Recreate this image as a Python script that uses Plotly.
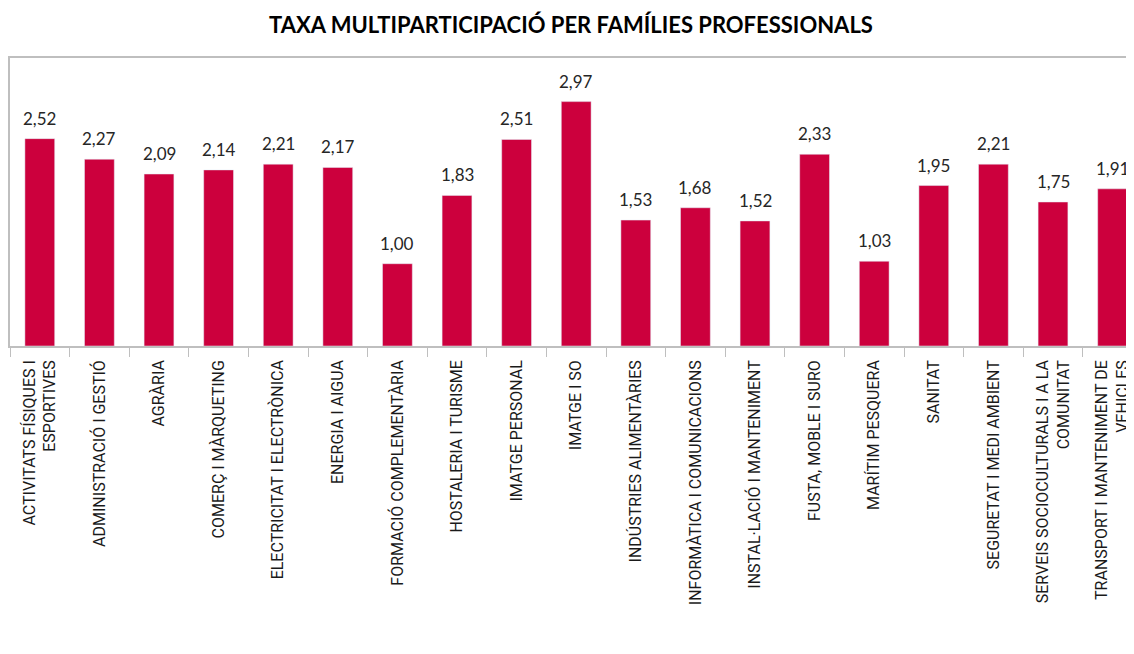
import plotly.graph_objects as go

categories = [
    "ACTIVITATS FÍSIQUES I<br>ESPORTIVES",
    "ADMINISTRACIÓ I GESTIÓ",
    "AGRÀRIA",
    "COMERÇ I MÀRQUETING",
    "ELECTRICITAT I ELECTRÒNICA",
    "ENERGIA I AIGUA",
    "FORMACIÓ COMPLEMENTÀRIA",
    "HOSTALERIA I TURISME",
    "IMATGE PERSONAL",
    "IMATGE I SO",
    "INDÚSTRIES ALIMENTÀRIES",
    "INFORMÀTICA I COMUNICACIONS",
    "INSTAL·LACIÓ I MANTENIMENT",
    "FUSTA, MOBLE I SURO",
    "MARÍTIM PESQUERA",
    "SANITAT",
    "SEGURETAT I MEDI AMBIENT",
    "SERVEIS SOCIOCULTURALS I A LA<br>COMUNITAT",
    "TRANSPORT I MANTENIMENT DE<br>VEHICLES",
]
values = [2.52, 2.27, 2.09, 2.14, 2.21, 2.17, 1.00, 1.83, 2.51, 2.97,
          1.53, 1.68, 1.52, 2.33, 1.03, 1.95, 2.21, 1.75, 1.91]

W, H = 1126, 646

fig = go.Figure(go.Bar(
    x=categories, y=values,
    marker_color="#CC003D",
    width=0.5,
    cliponaxis=False,
))

for c, v in zip(categories, values):
    fig.add_annotation(
        x=c, y=v, xref="x", yref="y",
        text=f"{v:.2f}".replace(".", ","),
        showarrow=False, yanchor="bottom", yshift=8,
        font=dict(size=17, color="#262626", family="Lato, sans-serif"),
    )

fig.update_layout(
    width=W, height=H,
    separators=",.",
    plot_bgcolor="white", paper_bgcolor="white",
    margin=dict(l=2, r=0, t=50, b=308, autoexpand=False),
    title=dict(text="<b>TAXA MULTIPARTICIPACIÓ PER FAMÍLIES PROFESSIONALS</b>",
               x=0.5, xanchor="center", xref="container",
               y=1 - 17 / H, yanchor="middle", yref="container",
               font=dict(size=22, color="#000000", family="Lato, sans-serif")),
    showlegend=False,
    bargap=0.5,
)
fig.update_xaxes(
    type="category",
    range=[-0.5, -0.5 + 1124 / 59.6],
    tickangle=-90,
    tickson="boundaries",
    ticks="outside", ticklen=9, tickcolor="#bfbfbf",
    ticklabelstandoff=6,
    showline=True, linecolor="#bfbfbf", linewidth=1.5,
    mirror=True,
    tickfont=dict(size=16, color="#1a1a1a", family="Roboto, sans-serif"),
    showgrid=False,
)
fig.update_yaxes(
    range=[0, 3.5],
    showticklabels=False, showgrid=False, zeroline=False,
    showline=True, linecolor="#bfbfbf", linewidth=1.5, mirror=True,
    ticks="",
)

fig.write_html("out.html")
